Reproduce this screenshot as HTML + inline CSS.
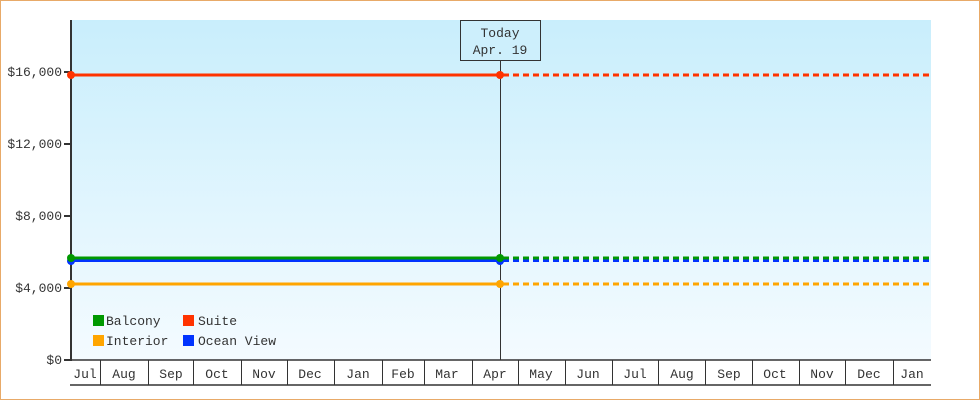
<!DOCTYPE html>
<html><head><meta charset="utf-8"><style>
html,body{margin:0;padding:0;background:#fff}
svg{display:block}
text{font-family:"Liberation Mono",monospace;font-size:13px;fill:#333}
</style></head><body>
<svg width="980" height="400" viewBox="0 0 980 400">
<defs><linearGradient id="g" x1="0" y1="0" x2="0" y2="1">
<stop offset="0" stop-color="#c9eefc"/><stop offset="1" stop-color="#f4fbff"/></linearGradient></defs>
<rect x="0.5" y="0.5" width="979" height="399" fill="#fff" stroke="#e8aa68"/>
<rect x="71" y="20" width="860" height="340" fill="url(#g)"/>
<!-- y axis -->
<line x1="71" y1="20" x2="71" y2="361" stroke="#333" stroke-width="2"/>
<g stroke="#333" stroke-width="2">
<line x1="64" y1="360" x2="71" y2="360"/><line x1="64" y1="288" x2="71" y2="288"/>
<line x1="64" y1="216" x2="71" y2="216"/><line x1="64" y1="144" x2="71" y2="144"/>
<line x1="64" y1="72" x2="71" y2="72"/></g>
<g text-anchor="end">
<text x="62" y="364">$0</text><text x="62" y="292">$4,000</text>
<text x="62" y="220">$8,000</text><text x="62" y="148">$12,000</text>
<text x="62" y="76">$16,000</text></g>
<!-- x axis -->
<line x1="70" y1="360" x2="931" y2="360" stroke="#333" stroke-width="1.5"/>
<line x1="70" y1="385" x2="931" y2="385" stroke="#333" stroke-width="1.5"/>
<g stroke="#333" stroke-width="1">
<line x1="100.5" y1="360" x2="100.5" y2="385"/><line x1="148.5" y1="360" x2="148.5" y2="385"/>
<line x1="193.5" y1="360" x2="193.5" y2="385"/><line x1="241.5" y1="360" x2="241.5" y2="385"/>
<line x1="287.5" y1="360" x2="287.5" y2="385"/><line x1="334.5" y1="360" x2="334.5" y2="385"/>
<line x1="382.5" y1="360" x2="382.5" y2="385"/><line x1="424.5" y1="360" x2="424.5" y2="385"/>
<line x1="472.5" y1="360" x2="472.5" y2="385"/><line x1="518.5" y1="360" x2="518.5" y2="385"/>
<line x1="565.5" y1="360" x2="565.5" y2="385"/><line x1="612.5" y1="360" x2="612.5" y2="385"/>
<line x1="658.5" y1="360" x2="658.5" y2="385"/><line x1="705.5" y1="360" x2="705.5" y2="385"/>
<line x1="752.5" y1="360" x2="752.5" y2="385"/><line x1="799.5" y1="360" x2="799.5" y2="385"/>
<line x1="845.5" y1="360" x2="845.5" y2="385"/><line x1="893.5" y1="360" x2="893.5" y2="385"/>
</g>
<g text-anchor="middle">
<text x="85" y="378">Jul</text><text x="124" y="378">Aug</text><text x="171" y="378">Sep</text>
<text x="217" y="378">Oct</text><text x="264" y="378">Nov</text><text x="310" y="378">Dec</text>
<text x="358" y="378">Jan</text><text x="403" y="378">Feb</text><text x="447" y="378">Mar</text>
<text x="495" y="378">Apr</text><text x="541" y="378">May</text><text x="588" y="378">Jun</text>
<text x="635" y="378">Jul</text><text x="682" y="378">Aug</text><text x="729" y="378">Sep</text>
<text x="775" y="378">Oct</text><text x="822" y="378">Nov</text><text x="869" y="378">Dec</text>
<text x="912" y="378">Jan</text></g>
<!-- today line -->
<line x1="500.5" y1="60" x2="500.5" y2="360" stroke="#333" stroke-width="1"/>
<rect x="460.5" y="20.5" width="80" height="40" fill="#cdeffc" stroke="#333"/>
<text x="500" y="37" text-anchor="middle">Today</text>
<text x="500" y="54" text-anchor="middle">Apr. 19</text>
<!-- series -->
<g stroke-width="3">
<line x1="71" y1="75" x2="500" y2="75" stroke="#ff3300"/>
<line x1="500" y1="75" x2="931" y2="75" stroke="#ff3300" stroke-dasharray="6,4" stroke-dashoffset="-3"/>
<line x1="71" y1="284" x2="500" y2="284" stroke="#ffa500"/>
<line x1="500" y1="284" x2="931" y2="284" stroke="#ffa500" stroke-dasharray="6,4" stroke-dashoffset="-3"/>
<line x1="71" y1="260.5" x2="500" y2="260.5" stroke="#0033ff"/>
<line x1="500" y1="260.5" x2="931" y2="260.5" stroke="#0033ff" stroke-dasharray="6,4" stroke-dashoffset="-3"/>
<line x1="71" y1="258" x2="500" y2="258" stroke="#009900"/>
<line x1="500" y1="258" x2="931" y2="258" stroke="#009900" stroke-dasharray="6,4" stroke-dashoffset="-3"/>
</g>
<g>
<circle cx="71" cy="75" r="4" fill="#ff3300"/><circle cx="500" cy="75" r="4" fill="#ff3300"/>
<circle cx="71" cy="284" r="4" fill="#ffa500"/><circle cx="500" cy="284" r="4" fill="#ffa500"/>
<circle cx="71" cy="261" r="4" fill="#0033ff"/><circle cx="500" cy="261" r="4" fill="#0033ff"/>
<circle cx="71" cy="258" r="4" fill="#009900"/><circle cx="500" cy="258" r="4" fill="#009900"/>
</g>
<!-- legend -->
<rect x="93" y="315" width="11" height="11" fill="#009900"/><text x="106" y="325">Balcony</text>
<rect x="183" y="315" width="11" height="11" fill="#ff3300"/><text x="198" y="325">Suite</text>
<rect x="93" y="335" width="11" height="11" fill="#ffa500"/><text x="106" y="345">Interior</text>
<rect x="183" y="335" width="11" height="11" fill="#0033ff"/><text x="198" y="345">Ocean View</text>
</svg>
</body></html>
